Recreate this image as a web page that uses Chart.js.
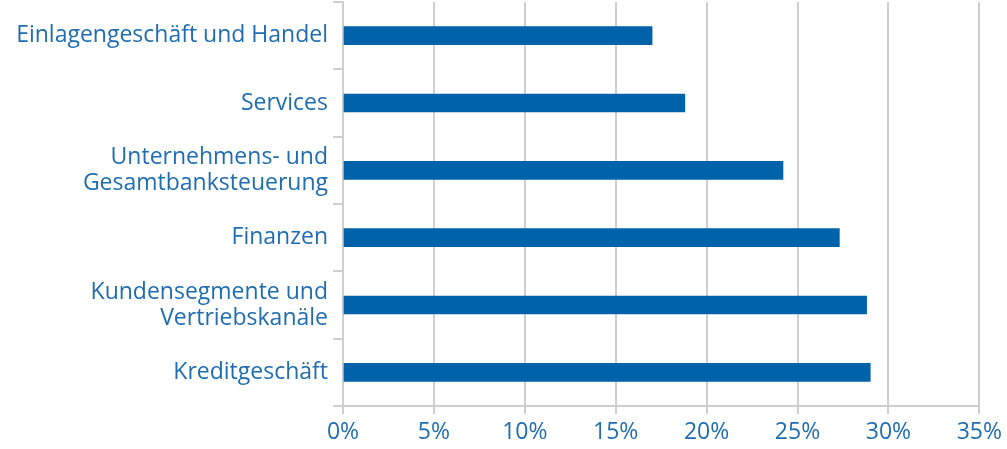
<!DOCTYPE html>
<html>
<head>
<meta charset="utf-8">
<script src="https://cdn.jsdelivr.net/npm/chart.js@4/dist/chart.umd.min.js"></script>
<style>
  html, body { margin: 0; padding: 0; background: #fff; }
  #wrap { width: 1007px; height: 449px; }
</style>
</head>
<body>
<div id="wrap"><canvas id="chart" width="1007" height="449"></canvas></div>
<script>
const categories = [
    'Einlagengeschäft und Handel',
    'Services',
    ['Unternehmens- und', 'Gesamtbanksteuerung'],
    'Finanzen',
    ['Kundensegmente und', 'Vertriebskanäle'],
    'Kreditgeschäft'
];
const values = [17.0, 18.8, 24.2, 27.3, 28.8, 29.0];
const xTicks = [0, 5, 10, 15, 20, 25, 30, 35];

const textColor = '#1f6db0';
const barColor = '#0062a8';
const gridColor = '#cfcfcf';

const ctx = document.getElementById('chart').getContext('2d');
new Chart(ctx, {
    type: 'bar',
    data: {
        labels: categories,
        datasets: [{
            data: values,
            backgroundColor: barColor,
            borderWidth: 0,
            barThickness: 18
        }]
    },
    options: {
        indexAxis: 'y',
        responsive: false,
        animation: false,
        layout: { padding: { top: 2, right: 26, left: 0, bottom: 0 } },
        plugins: {
            legend: { display: false },
            tooltip: { enabled: false }
        },
        scales: {
            x: {
                min: 0,
                max: 35,
                afterBuildTicks: function(scale) {
                    scale.ticks = xTicks.map(v => ({ value: v }));
                },
                afterFit: function(scale) { scale.height = 43; },
                grid: { color: gridColor, lineWidth: 2, tickLength: 8 },
                border: { color: gridColor, width: 2 },
                ticks: {
                    color: textColor,
                    padding: 5,
                    font: { family: 'Open Sans', size: 23 },
                    callback: function(v) { return v + '%'; }
                }
            },
            y: {
                afterFit: function(scale) {
                    scale.width = 343;
                    scale.paddingTop = 0;
                    scale.paddingBottom = 0;
                },
                grid: {
                    offset: true,
                    drawOnChartArea: false,
                    color: gridColor,
                    lineWidth: 2,
                    tickLength: 10
                },
                border: { color: gridColor, width: 2 },
                ticks: {
                    color: textColor,
                    padding: 5,
                    font: { family: 'Open Sans', size: 23, lineHeight: 1.13 }
                }
            }
        }
    }
});
</script>
</body>
</html>
